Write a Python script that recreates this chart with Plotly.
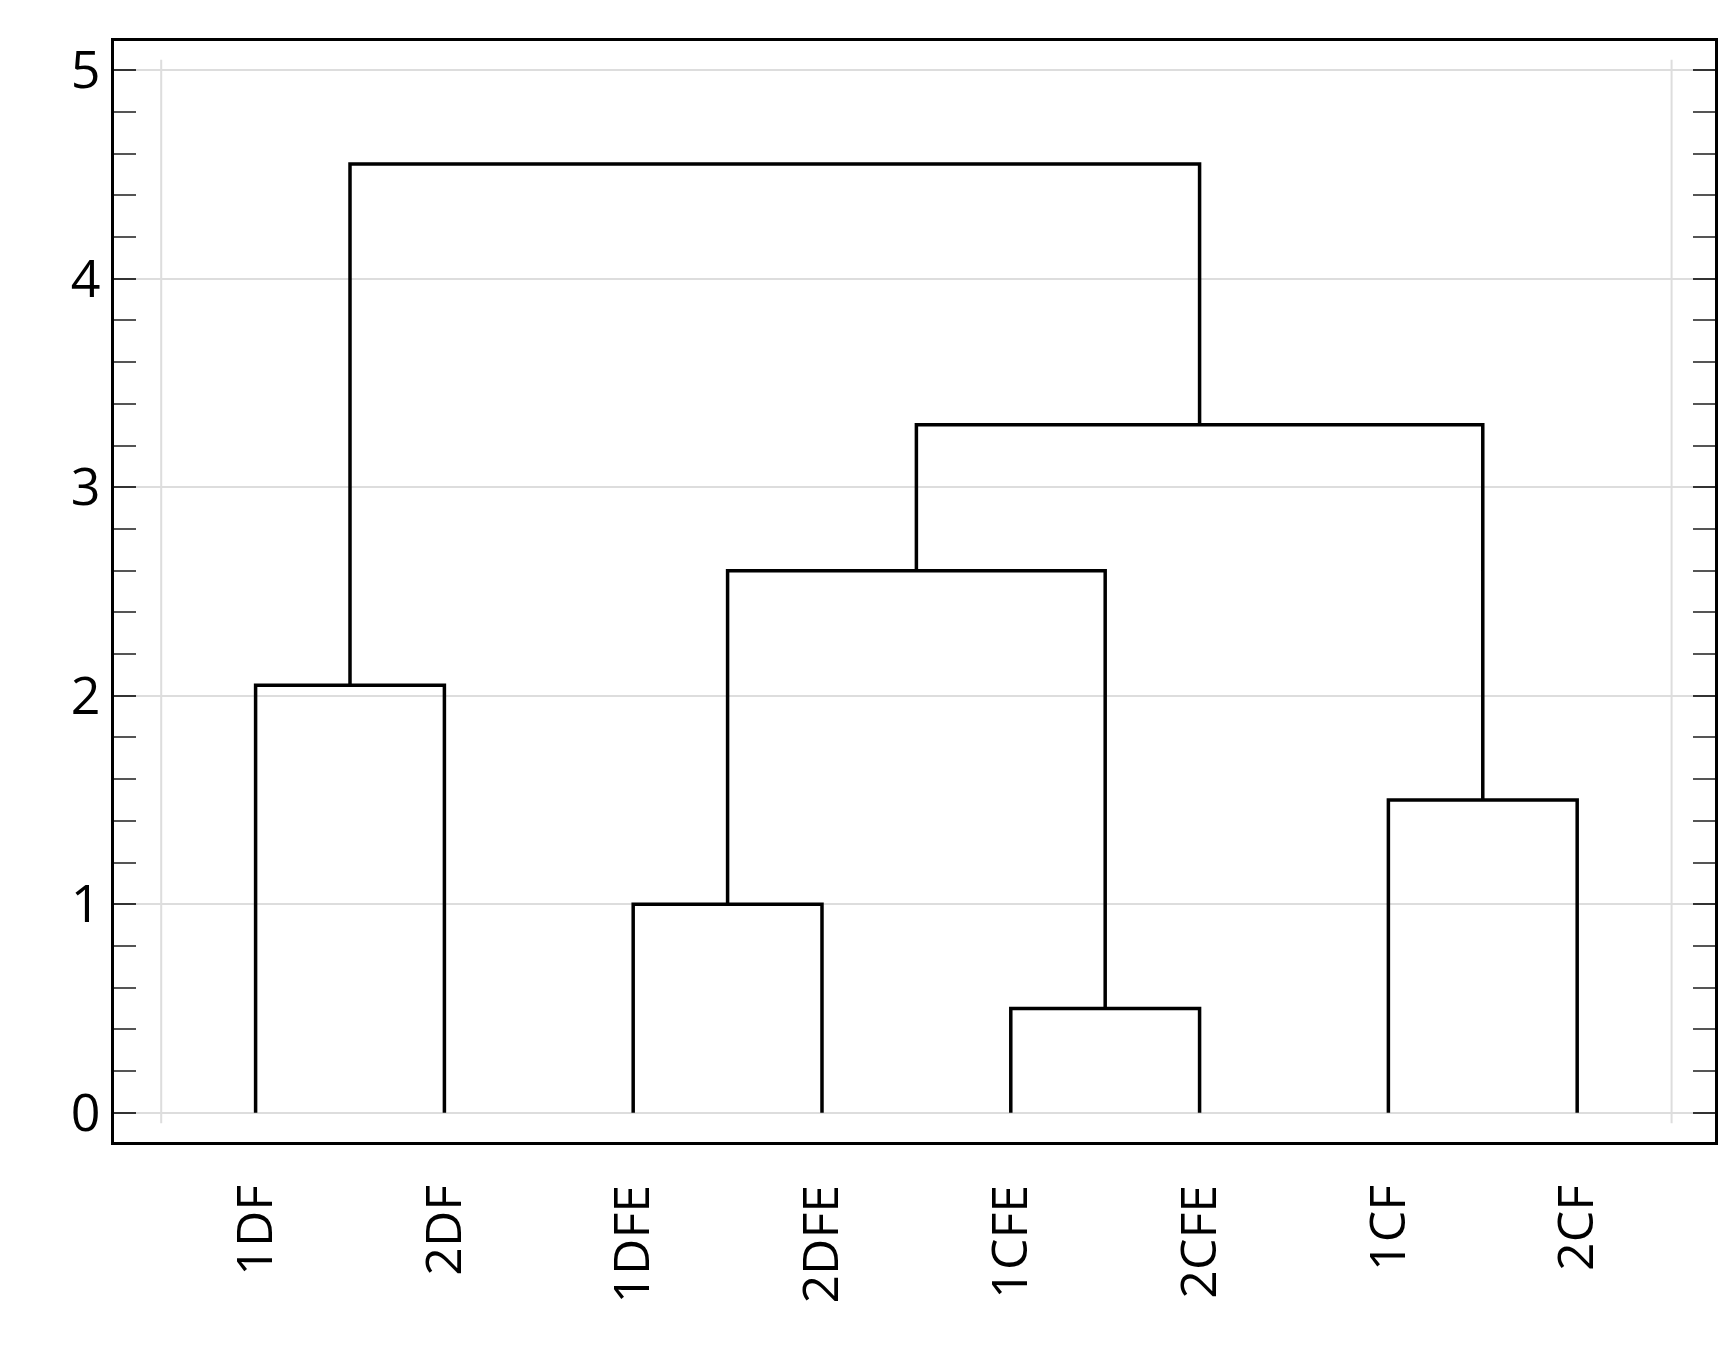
import plotly.graph_objects as go

leaves = ["1DF", "2DF", "1DFE", "2DFE", "1CFE", "2CFE", "1CF", "2CF"]
# merges: (left child, right child, height); children: leaf names or merge index "m<i>"
merge_left = ["1DF", "1DFE", "1CFE", "1CF", "m1", "m4", "m0"]
merge_right = ["2DF", "2DFE", "2CFE", "2CF", "m2", "m3", "m5"]
merge_height = [2.05, 1.0, 0.5, 1.5, 2.6, 3.3, 4.55]

pos = {name: i + 1 for i, name in enumerate(leaves)}
hgt = {name: 0.0 for name in leaves}
xs, ys = [], []
for i, (a, b, h) in enumerate(zip(merge_left, merge_right, merge_height)):
    xa, xb = pos[a], pos[b]
    xs += [xa, xa, xb, xb, None]
    ys += [hgt[a], h, h, hgt[b], None]
    pos[f"m{i}"] = (xa + xb) / 2
    hgt[f"m{i}"] = h

fig = go.Figure(go.Scatter(x=xs, y=ys, mode="lines",
                           line=dict(color="black", width=3.5), hoverinfo="skip"))
for xv in [0.5, 8.5]:
    fig.add_shape(type="line", x0=xv, x1=xv, y0=-0.05, y1=5.05, layer="below",
                  line=dict(color="#dddddd", width=2))

fig.update_layout(
    width=1735, height=1349, plot_bgcolor="white", paper_bgcolor="white",
    margin=dict(l=106, r=28, t=33, b=215), showlegend=False,
    font=dict(family="Open Sans", color="black"),
)
fig.update_xaxes(range=[0.25, 8.73], tickvals=list(range(1, len(leaves) + 1)),
                 ticktext=leaves, tickangle=-90, tickfont=dict(size=50),
                 showgrid=False, zeroline=False, showline=True, linecolor="black",
                 linewidth=3, mirror=True, ticks="", ticklabelstandoff=20)
fig.update_yaxes(range=[-0.14, 5.14], tickvals=[0, 1, 2, 3, 4, 5], tickfont=dict(size=52),
                 showgrid=True, gridcolor="#dddddd", gridwidth=2, zeroline=False,
                 showline=True, linecolor="black", linewidth=3, mirror="allticks",
                 ticks="inside", ticklen=22, tickwidth=2, tickcolor="#333",
                 minor=dict(dtick=0.2, tick0=0, ticks="inside", ticklen=22,
                            tickwidth=1.5, tickcolor="#555", showgrid=False))
fig.write_html("out.html")
